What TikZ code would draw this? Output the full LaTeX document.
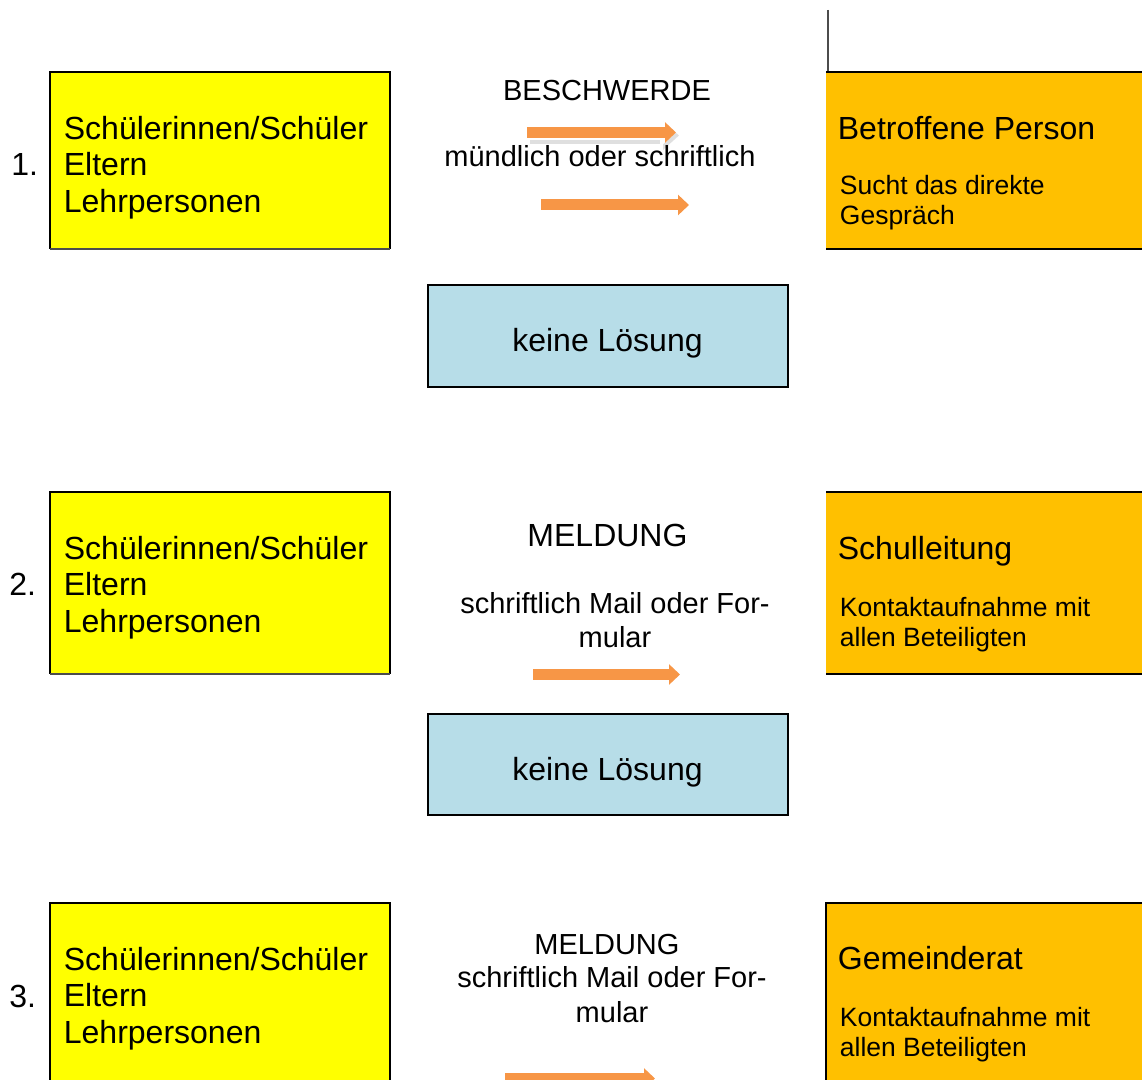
\documentclass[tikz,border=0pt]{standalone}
\usepackage{fontspec}
\setmainfont{Liberation Sans}
\usetikzlibrary{arrows.meta}
\definecolor{gelb}{HTML}{FFFF00}
\definecolor{orangebox}{HTML}{FFC000}
\definecolor{hellblau}{HTML}{B7DDE8}
\definecolor{pfeil}{HTML}{F79646}
\begin{document}
\begin{tikzpicture}[x=0.5pt,y=-0.5pt,
        big/.style={font=\fontsize{16}{18.25}\selectfont, inner sep=0pt, align=left},
        small/.style={font=\fontsize{13.25}{15}\selectfont, inner sep=0pt, align=left},
        mid/.style={font=\fontsize{14.5}{17.25}\selectfont, inner sep=0pt, align=center},
        pfeilstil/.style={pfeil, line width=5.5pt, -{Triangle[width=10pt,length=5.5pt]}},
        rand/.style={black, line width=1pt}]
        \useasboundingbox (0,0) rectangle (1142,1080);
        % Zeile 1 (base = letzte Zeile)
        \fill [gelb] (50,72) rectangle (390,249);
        \draw [rand] (50,249) -- (50,72) -- (390,72) -- (390,249);
        \draw [gray!60!black, line width=1pt] (50,249) -- (390,249);
        \node (n1) [big, anchor=base west] at (11,176) {1.};
        \node (s1) [big, anchor=base west] at (63.5,212.5) {Schülerinnen/Schüler\\Eltern\\Lehrpersonen};
        \draw [gray!60!black, line width=0.6pt] (828,10) -- (828,72);
        \fill [orangebox] (826,72) rectangle (1142,249);
        \draw [rand] (826,72) -- (1142,72);
        \draw [rand] (826,249) -- (1142,249);
        \node (b1) [big, anchor=base west] at (837.5,139.5) {Betroffene Person};
        \node (b1t) [small, anchor=base west] at (839.5,225) {Sucht das direkte\\Gespräch};
        \node (m1) [mid, anchor=base] at (607,100.5) {BESCHWERDE};
        \coordinate (p1a) at (527,132.5);
        \coordinate (q1a) at (676,132.5);
        \draw [gray!25, line width=9pt, -{Triangle[width=14pt,length=8pt]}, transform canvas={shift={(1.5pt,-1.5pt)}}] (p1a) -- (q1a);
        \draw [white, line width=8pt, -{Triangle[width=14pt,length=8pt]}] (p1a) -- (q1a);
        \draw [pfeilstil] (p1a) -- (q1a);
        \node (w1) [mid, anchor=base] at (600,167) {mündlich oder schriftlich};
        \coordinate (p1b) at (541,205);
        \coordinate (q1b) at (689,205);
        \draw [pfeilstil] (p1b) -- (q1b);
        \fill [hellblau] (428,285) rectangle (788,387);
        \draw [rand] (428,285) rectangle (788,387);
        \node (k1) [big, anchor=base] at (607.5,352) {keine Lösung};
        % Zeile 2
        \fill [gelb] (50,492) rectangle (390,674);
        \draw [rand] (50,674) -- (50,492) -- (390,492) -- (390,674);
        \draw [gray!60!black, line width=1pt] (50,674) -- (390,674);
        \node (n2) [big, anchor=base west] at (9,596) {2.};
        \node (s2) [big, anchor=base west] at (63.5,632.5) {Schülerinnen/Schüler\\Eltern\\Lehrpersonen};
        \fill [orangebox] (826,492) rectangle (1142,674);
        \draw [rand] (826,492) -- (1142,492);
        \draw [rand] (826,674) -- (1142,674);
        \node (b2) [big, anchor=base west] at (837.5,559.5) {Schulleitung};
        \node (b2t) [small, anchor=base west] at (839.5,647) {Kontaktaufnahme mit\\allen Beteiligten};
        \node (m2) [big, anchor=base] at (607.5,547) {MELDUNG};
        \node (w2) [mid, anchor=base] at (615,648) {schriftlich Mail oder For-\\mular};
        \coordinate (p2) at (533,674.5);
        \coordinate (q2) at (680,674.5);
        \draw [pfeilstil] (p2) -- (q2);
        \fill [hellblau] (428,714) rectangle (788,815);
        \draw [rand] (428,714) rectangle (788,815);
        \node (k2) [big, anchor=base] at (607.5,781) {keine Lösung};
        % Zeile 3
        \fill [gelb] (50,903) rectangle (390,1090);
        \draw [rand] (50,1090) -- (50,903) -- (390,903) -- (390,1090);
        \node (n3) [big, anchor=base west] at (9,1007) {3.};
        \node (s3) [big, anchor=base west] at (63.5,1043) {Schülerinnen/Schüler\\Eltern\\Lehrpersonen};
        \fill [orangebox] (826,903) rectangle (1142,1090);
        \draw [rand] (826,1090) -- (826,903) -- (1142,903);
        \node (b3) [big, anchor=base west] at (837.5,969) {Gemeinderat};
        \node (b3t) [small, anchor=base west] at (839.5,1056) {Kontaktaufnahme mit\\allen Beteiligten};
        \node (m3) [mid, anchor=base] at (607,954) {MELDUNG};
        \node (w3) [mid, anchor=base] at (612,1022) {schriftlich Mail oder For-\\mular};
        \coordinate (p3) at (505,1078.5);
        \coordinate (q3) at (655,1078.5);
        \draw [pfeilstil] (p3) -- (q3);
\end{tikzpicture}
\end{document}
